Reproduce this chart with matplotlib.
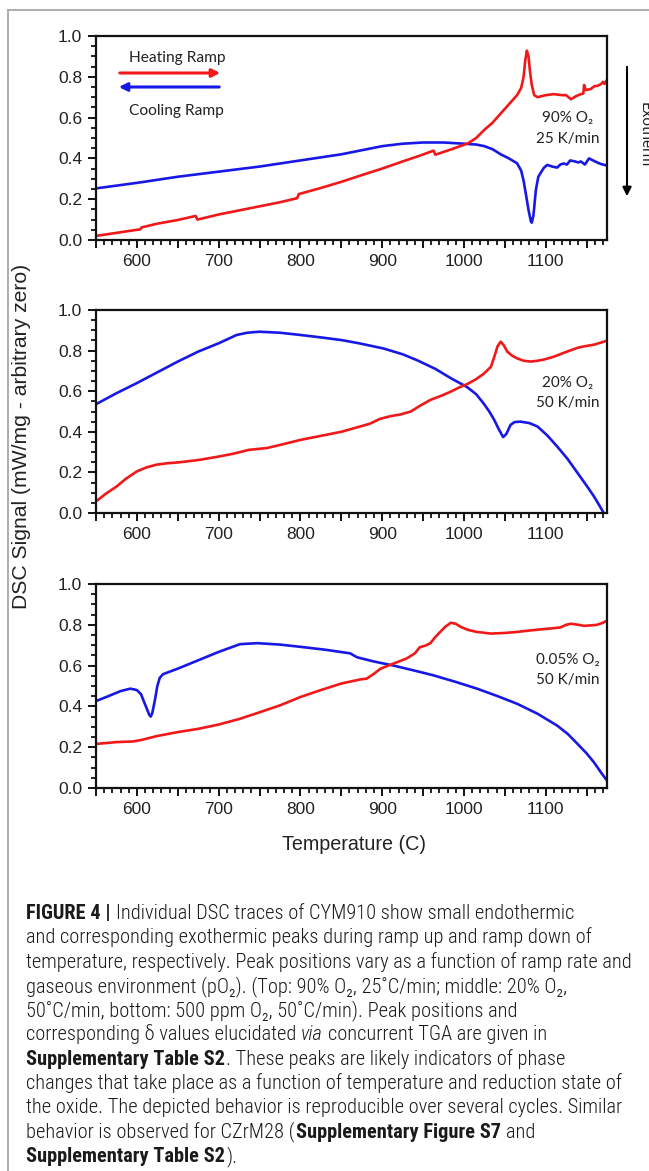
import matplotlib
matplotlib.use('Agg')
import matplotlib.pyplot as plt
from matplotlib.ticker import MultipleLocator, FuncFormatter
from matplotlib.lines import Line2D

W, H = 649, 1171

# ---------------- data ----------------
# Top panel: 90% O2, 25 K/min
top_heat_T = [550, 575, 600, 604, 606, 625, 650, 672, 674, 700, 725, 750, 775, 796, 798,
              825, 850, 875, 900, 925, 945, 963, 965, 985, 1005, 1015, 1025, 1035, 1045,
              1055, 1065, 1070, 1073, 1075, 1077, 1079, 1081, 1083, 1086, 1090, 1100, 1110,
              1120, 1125, 1131, 1137, 1143, 1146, 1147, 1149, 1155, 1160, 1163, 1168, 1170,
              1172, 1175]
top_heat = [0.02, 0.035, 0.05, 0.052, 0.062, 0.08, 0.098, 0.118, 0.100, 0.125, 0.145, 0.165,
            0.185, 0.205, 0.225, 0.255, 0.285, 0.318, 0.35, 0.385, 0.412, 0.438, 0.418, 0.445,
            0.474, 0.50, 0.54, 0.575, 0.62, 0.665, 0.71, 0.745, 0.80, 0.88, 0.928, 0.90, 0.82,
            0.76, 0.71, 0.70, 0.71, 0.715, 0.71, 0.71, 0.69, 0.705, 0.715, 0.718, 0.76, 0.735,
            0.74, 0.755, 0.755, 0.765, 0.775, 0.765, 0.785]
top_cool_T = [550, 600, 650, 700, 750, 800, 850, 875, 900, 925, 950, 975, 1000, 1015, 1025,
              1035, 1045, 1055, 1065, 1070, 1073, 1076, 1079, 1082, 1083, 1085, 1088, 1091,
              1094, 1098, 1102, 1108, 1114, 1118, 1122, 1126, 1130, 1136, 1140, 1143, 1148,
              1153, 1158, 1163, 1168, 1175]
top_cool = [0.253, 0.28, 0.31, 0.335, 0.36, 0.39, 0.42, 0.44, 0.46, 0.472, 0.478, 0.478, 0.472,
            0.468, 0.46, 0.445, 0.42, 0.40, 0.376, 0.34, 0.29, 0.22, 0.147, 0.09, 0.085, 0.12,
            0.245, 0.31, 0.33, 0.355, 0.368, 0.36, 0.355, 0.37, 0.375, 0.37, 0.39, 0.385, 0.38,
            0.385, 0.37, 0.40, 0.39, 0.38, 0.372, 0.365]

# Middle panel: 20% O2, 50 K/min
mid_heat_T = [550, 562, 575, 587, 600, 612, 624, 637, 650, 663, 677, 700, 718, 737, 759, 780,
              800, 825, 850, 873, 885, 897, 910, 922, 935, 947, 959, 972, 984, 995, 1004, 1014,
              1024, 1033, 1038, 1041, 1045, 1049, 1053, 1059, 1065, 1073, 1082, 1090, 1098,
              1110, 1126, 1140, 1146, 1160, 1175]
mid_heat = [0.057, 0.095, 0.13, 0.17, 0.205, 0.225, 0.238, 0.245, 0.249, 0.255, 0.262, 0.278,
            0.292, 0.311, 0.32, 0.34, 0.36, 0.38, 0.40, 0.426, 0.44, 0.463, 0.477, 0.485, 0.50,
            0.53, 0.557, 0.577, 0.598, 0.62, 0.635, 0.657, 0.685, 0.72, 0.78, 0.82, 0.844,
            0.825, 0.795, 0.775, 0.762, 0.75, 0.746, 0.75, 0.756, 0.77, 0.795, 0.815, 0.82,
            0.83, 0.849]
mid_cool_T = [550, 575, 600, 625, 650, 675, 700, 722, 735, 750, 775, 800, 825, 850, 873, 902,
              925, 943, 965, 984, 1004, 1015, 1024, 1031, 1037, 1043, 1048, 1052, 1057, 1062,
              1069, 1080, 1090, 1102, 1114, 1127, 1139, 1150, 1159, 1166, 1171]
mid_cool = [0.536, 0.59, 0.64, 0.693, 0.746, 0.795, 0.836, 0.877, 0.888, 0.893, 0.888, 0.877,
            0.865, 0.852, 0.835, 0.81, 0.782, 0.752, 0.71, 0.664, 0.62, 0.585, 0.54, 0.50,
            0.459, 0.41, 0.374, 0.39, 0.434, 0.448, 0.45, 0.443, 0.426, 0.382, 0.328, 0.265,
            0.197, 0.135, 0.082, 0.035, 0.0]

# Bottom panel: 0.05% O2, 50 K/min
bot_heat_T = [550, 575, 595, 605, 625, 650, 675, 700, 725, 747, 775, 800, 825, 850, 873, 881,
              890, 898, 914, 930, 940, 946, 953, 959, 965, 971, 977, 984, 990, 996, 1005, 1016,
              1033, 1050, 1065, 1080, 1095, 1106, 1118, 1125, 1131, 1140, 1147, 1155, 1163,
              1170, 1175]
bot_heat = [0.216, 0.225, 0.228, 0.235, 0.255, 0.274, 0.29, 0.311, 0.338, 0.367, 0.405, 0.446,
            0.48, 0.512, 0.532, 0.536, 0.56, 0.585, 0.61, 0.635, 0.66, 0.69, 0.698, 0.71, 0.74,
            0.765, 0.79, 0.81, 0.805, 0.79, 0.775, 0.765, 0.757, 0.76, 0.765, 0.772, 0.778,
            0.782, 0.787, 0.80, 0.805, 0.80, 0.795, 0.797, 0.80, 0.81, 0.82]
bot_cool_T = [550, 565, 580, 592, 600, 605, 608, 612, 615, 617, 619, 622, 625, 628, 632, 640,
              650, 675, 700, 726, 747, 775, 800, 830, 861, 866, 870, 890, 914, 940, 963, 990,
              1016, 1040, 1065, 1090, 1114, 1127, 1139, 1150, 1159, 1167, 1175]
bot_cool = [0.426, 0.45, 0.475, 0.487, 0.48, 0.46, 0.43, 0.39, 0.36, 0.35, 0.37, 0.43, 0.50,
            0.54, 0.558, 0.57, 0.585, 0.626, 0.667, 0.705, 0.71, 0.703, 0.692, 0.678, 0.66,
            0.648, 0.64, 0.62, 0.60, 0.575, 0.552, 0.52, 0.487, 0.452, 0.413, 0.364, 0.306,
            0.265, 0.216, 0.17, 0.126, 0.08, 0.036]

panel_labels = [("90% O\u2082", "25 K/min"), ("20% O\u2082", "50 K/min"), ("0.05% O\u2082", "50 K/min")]
x_ticklabels = [600, 700, 800, 900, 1000, 1100]
y_label = "DSC Signal (mW/mg - arbitrary zero)"
x_label = "Temperature (C)"

RED = '#f01818'
BLUE = '#1818e6'
TXT = '#222222'
TICKFONT = ['Liberation Sans', 'DejaVu Sans']
ANNFONT = ['Lato', 'DejaVu Sans']

fig = plt.figure(figsize=(W / 100, H / 100), dpi=100)


def rect(l, t, r, b):
    return [l / W, 1 - b / H, (r - l) / W, (b - t) / H]


boxes = [(96, 36, 607, 240), (96, 310, 607, 513), (96, 584, 607, 788)]
series = [(top_heat_T, top_heat, top_cool_T, top_cool),
          (mid_heat_T, mid_heat, mid_cool_T, mid_cool),
          (bot_heat_T, bot_heat, bot_cool_T, bot_cool)]
label_y = [(118, 139), (383, 403), (660, 680)]

for box, (hT, hv, cT, cv), (l1, l2), (ly1, ly2) in zip(boxes, series, panel_labels, label_y):
    ax = fig.add_axes(rect(*box))
    ax.plot(cT, cv, color=BLUE, lw=1.9, solid_joinstyle='round')
    ax.plot(hT, hv, color=RED, lw=1.9, solid_joinstyle='round')
    ax.set_xlim(550, 1175)
    ax.set_ylim(0, 1.0)
    ax.xaxis.set_major_locator(MultipleLocator(50))
    ax.xaxis.set_minor_locator(MultipleLocator(10))
    ax.yaxis.set_major_locator(MultipleLocator(0.2))
    ax.yaxis.set_minor_locator(MultipleLocator(0.05))
    ax.xaxis.set_major_formatter(FuncFormatter(
        lambda v, p: f"{int(round(v))}" if int(round(v)) in x_ticklabels else ""))
    ax.yaxis.set_major_formatter(FuncFormatter(lambda v, p: f"{v:.1f}"))
    ax.tick_params(which='major', direction='out', length=6, width=1.3, pad=4,
                   labelsize=12.5, labelcolor=TXT)
    ax.tick_params(which='minor', direction='out', length=3.5, width=1.2)
    for lab in ax.get_xticklabels() + ax.get_yticklabels():
        lab.set_family(TICKFONT)
    for s in ax.spines.values():
        s.set_linewidth(1.6)
        s.set_color('#111111')
    fig.text(568 / W, 1 - ly1 / H, l1, ha='center', va='center', fontsize=11,
             family=ANNFONT, color=TXT)
    fig.text(568 / W, 1 - ly2 / H, l2, ha='center', va='center', fontsize=11,
             family=ANNFONT, color=TXT)

# legend-like arrows in top panel
fig.text(129 / W, 1 - 58 / H, "Heating Ramp", ha='left', va='center', fontsize=11.2,
         family=ANNFONT, color=TXT)
fig.text(129 / W, 1 - 111 / H, "Cooling Ramp", ha='left', va='center', fontsize=11.2,
         family=ANNFONT, color=TXT)
fig.add_artist(matplotlib.patches.FancyArrowPatch(
    (117 / W, 1 - 73 / H), (223 / W, 1 - 73 / H), transform=fig.transFigure,
    arrowstyle='-|>', mutation_scale=12, color=RED, lw=2.2))
fig.add_artist(matplotlib.patches.FancyArrowPatch(
    (222 / W, 1 - 87 / H), (116 / W, 1 - 87 / H), transform=fig.transFigure,
    arrowstyle='-|>', mutation_scale=12, color=BLUE, lw=2.2))

# Exotherm arrow
fig.add_artist(matplotlib.patches.FancyArrowPatch(
    (627 / W, 1 - 64 / H), (627 / W, 1 - 199 / H), transform=fig.transFigure,
    arrowstyle='-|>', mutation_scale=13, color='black', lw=1.5))
fig.text(638 / W, 1 - 135 / H, "Exotherm", rotation=-90, ha='left', va='center',
         fontsize=11, family=ANNFONT, color=TXT)

# axis labels
fig.text(22 / W, 1 - 436 / H, y_label, rotation=90, ha='center', va='center',
         fontsize=15.2, family=TICKFONT, color=TXT)
fig.text(354 / W, 1 - 845 / H, x_label, ha='center', va='center',
         fontsize=14.2, family=TICKFONT, color=TXT)

# frame lines
fig.add_artist(Line2D([8 / W, 1], [1 - 10 / H, 1 - 10 / H], color='#a0a0a0', lw=1.2))
fig.add_artist(Line2D([8 / W, 8 / W], [1 - 10 / H, 0], color='#a0a0a0', lw=1.2))

# ---------------- caption ----------------
CAPFONT = ['Roboto Condensed', 'Liberation Sans Narrow', 'Roboto', 'DejaVu Sans']
caption = [
    [("FIGURE 4 |", 'b'), (" Individual DSC traces of CYM910 show small endothermic", 'r')],
    [("and corresponding exothermic peaks during ramp up and ramp down of", 'r')],
    [("temperature, respectively. Peak positions vary as a function of ramp rate and", 'r')],
    [("gaseous environment (pO\u2082). (Top: 90% O\u2082, 25\u02daC/min; middle: 20% O\u2082,", 'r')],
    [("50\u02daC/min, bottom: 500 ppm O\u2082, 50\u02daC/min). Peak positions and", 'r')],
    [("corresponding \u03b4 values elucidated ", 'r'), ("via", 'i'), (" concurrent TGA are given in", 'r')],
    [("Supplementary Table S2", 'b'), (". These peaks are likely indicators of phase", 'r')],
    [("changes that take place as a function of temperature and reduction state of", 'r')],
    [("the oxide. The depicted behavior is reproducible over several cycles. Similar", 'r')],
    [("behavior is observed for CZrM28 (", 'r'), ("Supplementary Figure S7", 'b'), (" and", 'r')],
    [("Supplementary Table S2", 'b'), (").", 'r')],
]

renderer = fig.canvas.get_renderer()


def make_text(x, y, s, st, size):
    return fig.text(x / W, 1 - y / H, s, fontsize=size, family=CAPFONT,
                    weight='bold' if st == 'b' else 300,
                    style='italic' if st == 'i' else 'normal',
                    ha='left', va='baseline', color='#1a1a1a')


def width_of(s, st, size):
    t = make_text(0, 0, s, st, size)
    w = t.get_window_extent(renderer).width
    t.remove()
    return w


def space_w(st, size):
    return width_of("a a", st, size) - width_of("aa", st, size)


def draw_runs(x0, y0, runs, size, draw=True):
    x = x0
    for s, st in runs:
        lead = len(s) - len(s.lstrip(' '))
        trail = len(s) - len(s.rstrip(' '))
        core = s.strip(' ')
        sw = space_w(st, size)
        x += lead * sw
        t = make_text(x, y0, core, st, size)
        x += t.get_window_extent(renderer).width + (0 if trail else 1)
        if not draw:
            t.remove()
        x += trail * sw
    return x - x0


base = 13.0
wref = draw_runs(0, 0, caption[2], base, draw=False)
cap_size = base * 604.0 / wref

for i, runs in enumerate(caption):
    draw_runs(26, 919 + 24.3 * i, runs, cap_size)

fig.savefig('out.png', dpi=100)
